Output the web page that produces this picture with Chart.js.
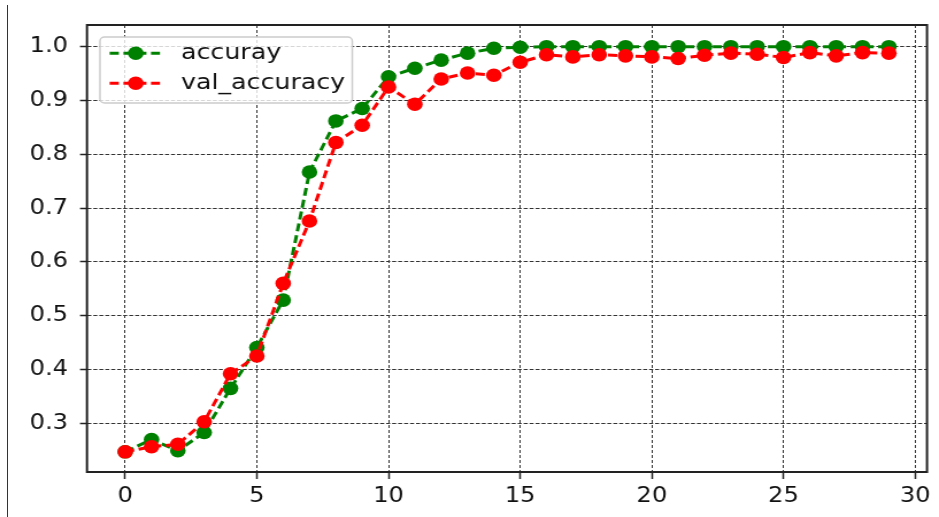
<!DOCTYPE html>
<html>
<head>
<meta charset="utf-8">
<title>accuracy vs val_accuracy</title>
<script src="https://cdn.jsdelivr.net/npm/chart.js@4/dist/chart.umd.min.js"></script>
<style>
  body { margin: 0; background: #fff; overflow: hidden; }
  #page { position: relative; width: 939px; height: 517px; }
  /* the source picture is a bit stretched sideways, so the chart is too */
  #wrap { position: absolute; left: 0; top: 0; width: 817px; height: 517px; transform: scaleX(1.1493); transform-origin: 0 0; }
  #edge { position: absolute; left: 7px; top: 5px; height: 512px; border-left: 1.5px solid #333; }
</style>
</head>
<body>
<div id="page">
  <div id="wrap">
    <canvas id="chart" width="817" height="517"></canvas>
  </div>
  <div id="edge"></div>
</div>
<script>
// 📦 Data
const epochs = [0, 1, 2, 3, 4, 5, 6, 7, 8, 9, 10, 11, 12, 13, 14, 15, 16, 17, 18, 19, 20, 21, 22, 23, 24, 25, 26, 27, 28, 29];
const accuracy = [0.247, 0.270, 0.249, 0.283, 0.365, 0.441, 0.529, 0.767, 0.862, 0.885,
  0.944, 0.960, 0.975, 0.988, 0.997, 0.999, 1.0, 1.0, 1.0, 1.0,
  1.0, 1.0, 1.0, 1.0, 1.0, 1.0, 1.0, 1.0, 1.0, 1.0];
const valAccuracy = [0.247, 0.2565, 0.261, 0.303, 0.392, 0.425, 0.560, 0.676, 0.822, 0.854,
  0.925, 0.893, 0.940, 0.951, 0.947, 0.971, 0.985, 0.981, 0.985, 0.983,
  0.981, 0.978, 0.984, 0.988, 0.986, 0.980, 0.989, 0.983, 0.989, 0.988];
const seriesLabels = ['accuray', 'val_accuracy'];
const xTicks = [0, 5, 10, 15, 20, 25, 30];
const yTicks = [0.3, 0.4, 0.5, 0.6, 0.7, 0.8, 0.9, 1.0];

const FONT = 'DejaVu Sans';
const GREEN = '#008000';
const RED = '#ff0000';

function toPoints(values) {
  return epochs.map((e, i) => ({ x: e, y: values[i] }));
}

// 🖼️ Axes frame (all four spines)
const framePlugin = {
  id: 'frame',
  afterDatasetsDraw(chart) {
    const { ctx, chartArea: a } = chart;
    ctx.save();
    ctx.strokeStyle = '#222';
    ctx.lineWidth = 2;
    ctx.strokeRect(a.left, a.top, a.right - a.left, a.bottom - a.top);
    ctx.restore();
  }
};

// 🏷️ matplotlib-like legend: dashed line with a dot, inside the plot
const legendPlugin = {
  id: 'mplLegend',
  afterDraw(chart) {
    const { ctx, chartArea: a } = chart;
    const bx = a.left + 11.3, by = a.top + 12, bw = 219.5, bh = 66;
    ctx.save();
    ctx.beginPath();
    ctx.roundRect(bx, by, bw, bh, 4);
    ctx.fillStyle = 'rgba(255,255,255,0.8)';
    ctx.fill();
    ctx.strokeStyle = '#cccccc';
    ctx.lineWidth = 1.5;
    ctx.stroke();

    chart.data.datasets.forEach((ds, i) => {
      const cy = by + 16.3 + i * 30;
      ctx.setLineDash(ds.borderDash);
      ctx.strokeStyle = ds.borderColor;
      ctx.lineWidth = ds.borderWidth;
      ctx.beginPath();
      ctx.moveTo(bx + 8.4, cy);
      ctx.lineTo(bx + 52.2, cy);
      ctx.stroke();
      ctx.setLineDash([]);
      ctx.fillStyle = ds.pointBackgroundColor;
      ctx.beginPath();
      ctx.arc(bx + 31.1, cy, ds.pointRadius, 0, Math.PI * 2);
      ctx.fill();
      ctx.fillStyle = '#111';
      ctx.font = `22px "${FONT}"`;
      ctx.textBaseline = 'middle';
      ctx.fillText(ds.label, bx + 70.5, cy);
    });
    ctx.restore();
  }
};

function makeDataset(label, values, color, order) {
  return {
    label,
    data: toPoints(values),
    borderColor: color,
    backgroundColor: color,
    pointBackgroundColor: color,
    pointBorderColor: color,
    pointBorderWidth: 0,
    pointRadius: 6.8,
    pointHoverRadius: 6.8,
    borderWidth: 3,
    borderDash: [8, 4],
    tension: 0,
    fill: false,
    order
  };
}

new Chart(document.getElementById('chart'), {
  type: 'line',
  data: {
    datasets: [
      makeDataset(seriesLabels[0], accuracy, GREEN, 1),
      makeDataset(seriesLabels[1], valAccuracy, RED, 0)
    ]
  },
  options: {
    responsive: false,
    animation: false,
    layout: { padding: { top: 25, right: 10.4, left: 0, bottom: 0 } },
    plugins: {
      legend: { display: false },
      tooltip: { enabled: false }
    },
    scales: {
      x: {
        type: 'linear',
        min: -1.45,
        max: 30.45,
        afterFit: s => { s.height = 45; },
        afterBuildTicks: s => { s.ticks = xTicks.map(v => ({ value: v })); },
        ticks: {
          color: '#111',
          padding: 5,
          font: { family: FONT, size: 21 },
          callback: v => String(v)
        },
        grid: {
          color: '#333',
          lineWidth: 1,
          borderDash: [3, 2],
          tickLength: 7,
          tickWidth: 1.5,
          tickColor: '#222',
          tickBorderDash: []
        },
        border: { display: false, dash: [3, 2] }
      },
      y: {
        min: 0.2095,
        max: 1.0403,
        afterFit: s => { s.width = 75.7; },
        afterBuildTicks: s => { s.ticks = yTicks.map(v => ({ value: v })); },
        ticks: {
          color: '#111',
          padding: 10.4,
          font: { family: FONT, size: 21 },
          callback: v => v.toFixed(1)
        },
        grid: {
          color: '#333',
          lineWidth: 1,
          borderDash: [3.5, 1.7],
          tickLength: 6.1,
          tickWidth: 1.5,
          tickColor: '#222',
          tickBorderDash: []
        },
        border: { display: false, dash: [3.5, 1.7] }
      }
    }
  },
  plugins: [framePlugin, legendPlugin]
});
</script>
</body>
</html>
